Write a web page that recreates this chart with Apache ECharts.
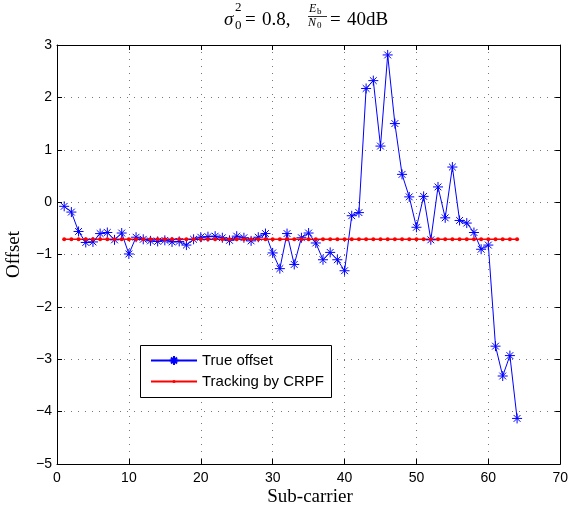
<!DOCTYPE html>
<html>
<head>
<meta charset="utf-8">
<script src="https://cdn.jsdelivr.net/npm/echarts@6/dist/echarts.min.js"></script>
<style>html,body{margin:0;padding:0;background:#fff;}#c{width:571px;height:514px;}</style>
</head>
<body>
<div id="c"></div>
<script>
const trueOffset = [-0.08,-0.19,-0.56,-0.77,-0.76,-0.60,-0.58,-0.72,-0.59,-0.99,
  -0.67,-0.71,-0.74,-0.75,-0.73,-0.76,-0.75,-0.82,-0.71,-0.67,
  -0.66,-0.65,-0.68,-0.73,-0.65,-0.68,-0.74,-0.67,-0.60,-0.97,
  -1.27,-0.60,-1.19,-0.68,-0.59,-0.78,-1.10,-0.96,-1.10,-1.31,
  -0.26,-0.20,2.17,2.32,1.07,2.81,1.50,0.53,0.10,-0.48,
  0.11,-0.72,0.29,-0.30,0.67,-0.35,-0.40,-0.58,-0.90,-0.82,
  -2.75,-3.32,-2.93,-4.13];
const crpf = [-0.71,-0.71,-0.71,-0.71,-0.71,-0.71,-0.71,-0.71,-0.71,-0.71,
  -0.71,-0.71,-0.71,-0.71,-0.71,-0.71,-0.71,-0.71,-0.71,-0.71,
  -0.71,-0.71,-0.71,-0.71,-0.71,-0.71,-0.71,-0.71,-0.71,-0.71,
  -0.71,-0.71,-0.71,-0.71,-0.71,-0.71,-0.71,-0.71,-0.71,-0.71,
  -0.71,-0.71,-0.71,-0.71,-0.71,-0.71,-0.71,-0.71,-0.71,-0.71,
  -0.71,-0.71,-0.71,-0.71,-0.71,-0.71,-0.71,-0.71,-0.71,-0.71,
  -0.71,-0.71,-0.71,-0.71];
const xTicks = [0,10,20,30,40,50,60,70];
const yTicks = [-5,-4,-3,-2,-1,0,1,2,3];
const seriesNames = ['True offset','Tracking by CRPF'];

const pairs = arr => arr.map((v,i) => [i+1, v]);
const fmt = v => String(v).replace('-', '\u2212');
const serif = 'Liberation Serif';
const sans = 'Liberation Sans';
const asterisk = 'path://M5,0L5,10M0,5L10,5M1.6,1.6L8.4,8.4M1.6,8.4L8.4,1.6';

function txt(x, y, text, font, extra) {
  return Object.assign({type:'text', x:x, y:y, z:10,
    style:{text:text, font:font, fill:'#000', verticalAlign:'middle', align:'left'}}, extra || {});
}

const chart = echarts.init(document.getElementById('c'), null, {renderer:'canvas'});
const axisCommon = {
  axisLine:{show:true, onZero:false, lineStyle:{color:'#000', width:1}},
  axisTick:{show:true, inside:true, length:5, lineStyle:{color:'#000'}},
  axisLabel:{color:'#000', fontFamily:sans, fontSize:14, formatter:fmt},
};
const legendCommon = {
  left:150, orient:'vertical', selectedMode:false, padding:0,
  itemWidth:46, textStyle:{color:'#000', fontFamily:sans, fontSize:15}, z:5
};
chart.setOption({
  animation:false,
  backgroundColor:'#fff',
  grid:{left:57, right:8, top:45, bottom:50, containLabel:false},
  xAxis:[
    Object.assign({type:'value', min:xTicks[0], max:xTicks[xTicks.length-1], interval:10, position:'bottom',
      splitLine:{show:true, lineStyle:{color:'#777', width:1, type:[1,6]}}}, axisCommon,
      {axisLabel:Object.assign({}, axisCommon.axisLabel, {margin:7})}),
    Object.assign({type:'value', min:xTicks[0], max:xTicks[xTicks.length-1], interval:10, position:'top',
      splitLine:{show:false}}, axisCommon, {axisLabel:{show:false}})
  ],
  yAxis:[
    Object.assign({type:'value', min:yTicks[0], max:yTicks[yTicks.length-1], interval:1, position:'left',
      splitLine:{show:true, lineStyle:{color:'#777', width:1, type:[1,6]}}}, axisCommon,
      {axisLabel:Object.assign({}, axisCommon.axisLabel, {margin:5})}),
    Object.assign({type:'value', min:yTicks[0], max:yTicks[yTicks.length-1], interval:1, position:'right',
      splitLine:{show:false}}, axisCommon, {axisLabel:{show:false}})
  ],
  legend:[
    Object.assign({}, legendCommon, {top:353, data:[seriesNames[0]], itemHeight:11}),
    Object.assign({}, legendCommon, {top:374, data:[seriesNames[1]], itemHeight:4})
  ],
  series:[
    {name:seriesNames[0], type:'line', xAxisIndex:0, yAxisIndex:0, data:pairs(trueOffset),
      symbol:asterisk, symbolSize:10,
      lineStyle:{color:'#0000ff', width:1},
      itemStyle:{color:'#0000ff', borderColor:'#0000ff', borderWidth:1},
      emphasis:{disabled:true}},
    {name:seriesNames[1], type:'line', xAxisIndex:0, yAxisIndex:0, data:pairs(crpf),
      symbol:'circle', symbolSize:4,
      lineStyle:{color:'#ff0000', width:1.5},
      itemStyle:{color:'#ff0000', borderWidth:0},
      emphasis:{disabled:true}}
  ],
  graphic:[
    {type:'rect', z:3, shape:{x:140.5, y:345.5, width:191, height:52}, style:{fill:'#fff', stroke:'#000', lineWidth:1}},
    txt(224, 20.2, '\u03C3', 'italic 19px ' + serif),
    txt(235, 7.4, '2', '13px ' + serif),
    txt(235, 25.7, '0', '13px ' + serif),
    txt(245, 20.2, '=', '19px ' + serif),
    txt(262, 20.2, '0.8,', '19px ' + serif),
    txt(309, 9.3, 'E', 'italic 12px ' + serif),
    txt(317, 12, 'b', '9px ' + serif),
    {type:'line', z:10, shape:{x1:308, y1:16.5, x2:327, y2:16.5}, style:{stroke:'#000', lineWidth:0.8}},
    txt(308, 22.7, 'N', 'italic 12px ' + serif),
    txt(317, 25.5, '0', '9px ' + serif),
    txt(330, 20.2, '=', '19px ' + serif),
    txt(347, 20.2, '40dB', '19px ' + serif),
    txt(310, 496.7, 'Sub-carrier', '19px ' + serif, {style:{text:'Sub-carrier', font:'19px '+serif, fill:'#000', verticalAlign:'middle', align:'center'}}),
    txt(14, 254.5, 'Offset', '19px ' + serif, {rotation:Math.PI/2, style:{text:'Offset', font:'19px '+serif, fill:'#000', verticalAlign:'middle', align:'center'}})
  ]
});
</script>
</body>
</html>
